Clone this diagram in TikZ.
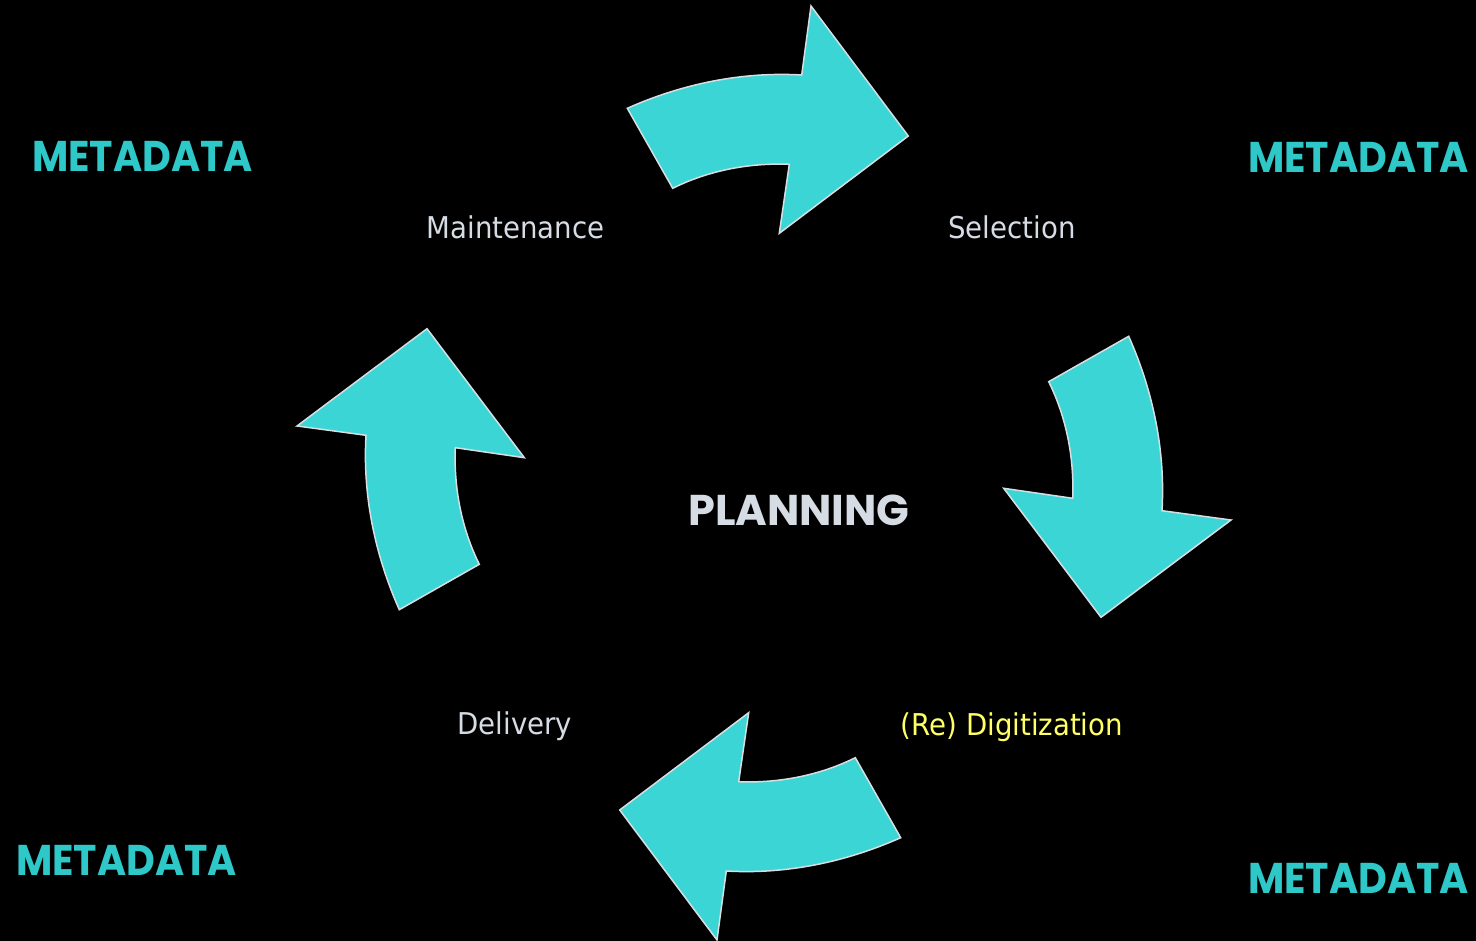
\documentclass[tikz,border=0pt]{standalone}
\usepackage{fontspec}
\newfontfamily\headfont{Poppins}
\newfontfamily\metafont[FakeStretch=0.92]{Poppins}
\newfontfamily\lblfont[FakeStretch=0.92]{DejaVu Sans}
\definecolor{cycfill}{RGB}{59,213,214}
\definecolor{cycedge}{RGB}{215,222,226}
\definecolor{metacol}{RGB}{46,200,201}
\definecolor{plancol}{RGB}{214,220,228}
\definecolor{lblcol}{RGB}{214,220,228}
\definecolor{digcol}{RGB}{255,255,102}

\begin{document}
\begin{tikzpicture}[x=1pt,y=-1pt,
  cyc/.style={fill=cycfill,draw=cycedge,line width=1.5pt,line join=miter},
  meta/.style={text=metacol,font=\metafont\bfseries\fontsize{43}{43}\selectfont,anchor=base,inner sep=0pt},
  lbl/.style={text=lblcol,font=\lblfont\fontsize{30}{30}\selectfont,anchor=base,inner sep=0pt}]
\useasboundingbox (0,0) rectangle (1476,941);
\fill[black] (0,0) rectangle (1476,941);
\coordinate (c) at (764,473);
\foreach \a in {0,-90,-180,-270}
  \filldraw[cyc,rotate around={\a:(c)}] (627.3,108.3) .. controls (682.1,83.9) and (741.7,71.5) .. (801.7,75)
    -- (811,6) -- (908.3,136) -- (779.3,233.3) -- (789.3,164.3)
    .. controls (749.3,162.7) and (708.5,170.5) .. (672.7,188.3) -- cycle;
\node[meta] (metaTL) at (142.5,172) {METADATA};
\node[meta] (metaTR) at (1358.5,173) {METADATA};
\node[meta] (metaBL) at (126.5,875) {METADATA};
\node[meta] (metaBR) at (1358.5,893) {METADATA};
\node[meta,text=plancol,font=\headfont\bfseries\fontsize{43}{43}\selectfont] (plan) at (799,525) {PLANNING};
\node[lbl] (maint) at (515.5,239) {Maintenance};
\node[lbl] (sel) at (1012,239) {Selection};
\node[lbl] (deliv) at (515,734) {Delivery};
\node[lbl,text=digcol] (digit) at (1012,735) {(Re) Digitization};
\end{tikzpicture}
\end{document}
